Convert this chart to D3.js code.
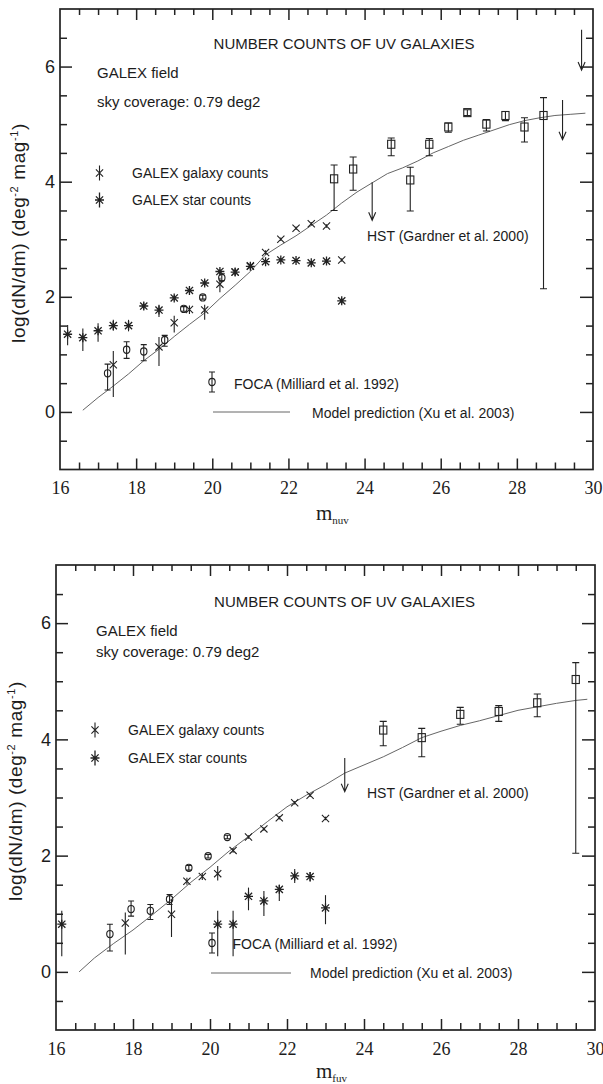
<!DOCTYPE html>
<html>
<head>
<meta charset="utf-8">
<script src="https://cdn.jsdelivr.net/npm/d3@7"></script>
<style>
body { margin: 0; background: #fff; }
svg { display: block; }
text { fill: #1c1c1c; font-family: "Liberation Sans", Arial, sans-serif; }
</style>
</head>
<body>
<svg id="chart" width="603" height="1084"></svg>
<script>
// ---------- NUV panel (top) ----------
var nuvGalMag  = [17.4, 18.6, 19.0, 19.4, 19.8, 20.2, 20.6, 21.0, 21.4, 21.8, 22.2, 22.6, 23.0, 23.4];
var nuvGalLog  = [0.82, 1.13, 1.55, 1.78, 1.77, 2.22, 2.43, 2.54, 2.77, 3.00, 3.19, 3.27, 3.23, 2.64];
var nuvGalLo   = [0.26, 0.80, 1.38, 1.70, 1.60, 2.08, 2.36, 2.48, 2.73, 2.97, 3.16, 3.24, 3.20, 2.61];
var nuvGalHi   = [1.06, 1.30, 1.67, 1.85, 1.86, 2.33, 2.50, 2.59, 2.81, 3.03, 3.22, 3.30, 3.26, 2.67];

var nuvStarMag = [16.2, 16.6, 17.0, 17.4, 17.8, 18.2, 18.6, 19.0, 19.4, 19.8, 20.2, 20.6, 21.0, 21.4, 21.8, 22.2, 22.6, 23.0, 23.4];
var nuvStarLog = [1.35, 1.29, 1.41, 1.50, 1.50, 1.84, 1.77, 1.98, 2.11, 2.24, 2.44, 2.43, 2.53, 2.61, 2.64, 2.63, 2.59, 2.62, 1.93];
var nuvStarLo  = [1.16, 1.06, 1.22, 1.41, 1.40, 1.78, 1.65, 1.93, 2.06, 2.19, 2.40, 2.38, 2.49, 2.58, 2.61, 2.60, 2.56, 2.59, 1.88];
var nuvStarHi  = [1.51, 1.45, 1.54, 1.60, 1.60, 1.90, 1.86, 2.03, 2.16, 2.29, 2.48, 2.48, 2.57, 2.64, 2.67, 2.66, 2.62, 2.65, 1.98];

var nuvFocaMag = [17.25, 17.75, 18.2, 18.75, 19.25, 19.75, 20.25];
var nuvFocaLog = [0.67, 1.08, 1.05, 1.25, 1.79, 1.99, 2.33];
var nuvFocaLo  = [0.38, 0.93, 0.89, 1.14, 1.75, 1.96, 2.28];
var nuvFocaHi  = [0.83, 1.22, 1.17, 1.33, 1.83, 2.03, 2.40];

var nuvHstMag  = [23.2, 23.7, 24.7, 25.2, 25.7, 26.2, 26.7, 27.2, 27.7, 28.2, 28.7];
var nuvHstLog  = [4.05, 4.22, 4.65, 4.03, 4.65, 4.95, 5.20, 5.00, 5.15, 4.95, 5.15];
var nuvHstLo   = [3.50, 3.85, 4.45, 3.49, 4.45, 4.86, 5.15, 4.88, 5.06, 4.69, 2.14];
var nuvHstHi   = [4.29, 4.43, 4.76, 4.25, 4.75, 5.02, 5.25, 5.08, 5.22, 5.11, 5.46];

var nuvLimMag  = [24.2, 29.2, 29.7];
var nuvLimFrom = [3.99, 5.42, 6.64];
var nuvLimTo   = [3.33, 4.73, 5.94];

var nuvModelMag = [16.6, 17.0, 17.4, 17.8, 18.2, 18.6, 19.0, 19.4, 19.8, 20.2, 20.6, 21.0, 21.4, 21.8, 22.2, 22.6, 23.0, 23.4,
                   23.8, 24.2, 24.6, 25.0, 25.4, 25.8, 26.2, 26.6, 27.0, 27.4, 27.8, 28.2, 28.6, 29.0, 29.4, 29.8];
var nuvModelLog = [0.03, 0.25, 0.45, 0.66, 0.89, 1.09, 1.31, 1.52, 1.72, 1.97, 2.20, 2.44, 2.73, 2.90, 3.06, 3.24, 3.42, 3.63,
                   3.82, 3.98, 4.14, 4.24, 4.36, 4.50, 4.61, 4.72, 4.81, 4.90, 4.99, 5.06, 5.11, 5.15, 5.17, 5.19];

// ---------- FUV panel (bottom) ----------
var fuvGalMag  = [17.8, 19.0, 19.4, 19.8, 20.2, 20.6, 21.0, 21.4, 21.8, 22.2, 22.6, 23.0];
var fuvGalLog  = [0.84, 0.99, 1.56, 1.64, 1.69, 2.09, 2.32, 2.46, 2.65, 2.91, 3.04, 2.64];
var fuvGalLo   = [0.30, 0.60, 1.50, 1.58, 1.57, 2.05, 2.29, 2.43, 2.62, 2.88, 3.01, 2.61];
var fuvGalHi   = [1.02, 1.25, 1.62, 1.70, 1.82, 2.13, 2.35, 2.49, 2.68, 2.94, 3.07, 2.67];

var fuvStarMag = [16.15, 20.2, 20.6, 21.0, 21.4, 21.8, 22.2, 22.6, 23.0];
var fuvStarLog = [0.82, 0.82, 0.82, 1.30, 1.22, 1.42, 1.65, 1.64, 1.10];
var fuvStarLo  = [0.27, 0.27, 0.27, 1.06, 0.96, 1.22, 1.53, 1.55, 0.82];
var fuvStarHi  = [1.05, 1.05, 1.05, 1.45, 1.39, 1.50, 1.77, 1.72, 1.32];

var fuvFocaMag = [17.4, 17.95, 18.45, 18.95, 19.45, 19.95, 20.45];
var fuvFocaLog = [0.65, 1.08, 1.05, 1.25, 1.79, 1.99, 2.32];
var fuvFocaLo  = [0.36, 0.96, 0.90, 1.16, 1.75, 1.96, 2.29];
var fuvFocaHi  = [0.82, 1.22, 1.16, 1.33, 1.83, 2.02, 2.35];

var fuvHstMag  = [24.5, 25.5, 26.5, 27.5, 28.5, 29.5];
var fuvHstLog  = [4.16, 4.03, 4.43, 4.48, 4.63, 5.03];
var fuvHstLo   = [3.89, 3.70, 4.26, 4.31, 4.39, 2.04];
var fuvHstHi   = [4.31, 4.19, 4.55, 4.58, 4.78, 5.32];

var fuvLimMag  = [23.5];
var fuvLimFrom = [3.68];
var fuvLimTo   = [3.10];

var fuvModelMag = [16.6, 17.0, 17.5, 18.0, 18.5, 19.0, 19.5, 20.0, 20.5, 21.0, 21.5, 22.0, 22.5, 23.0, 23.5, 24.0,
                   24.5, 25.0, 25.5, 26.0, 26.5, 27.0, 27.5, 28.0, 28.5, 29.0, 29.5, 29.8];
var fuvModelLog = [0.00, 0.24, 0.49, 0.72, 0.98, 1.25, 1.54, 1.80, 2.08, 2.33, 2.59, 2.84, 3.04, 3.22, 3.42, 3.56,
                   3.70, 3.86, 4.03, 4.14, 4.24, 4.32, 4.41, 4.50, 4.56, 4.62, 4.67, 4.69];

// ---------- axes ----------
var xDomain = [16, 30];
var yDomain = [-1, 7];
var xMajor = [16, 18, 20, 22, 24, 26, 28, 30];
var yMajor = [0, 2, 4, 6];

var svg = d3.select("#chart");
var ink = "#222";

var panels = [
  { left: 60, right: 593, top: 9, bottom: 469.5, band: "nuv",
    gal: [nuvGalMag, nuvGalLog, nuvGalLo, nuvGalHi],
    star: [nuvStarMag, nuvStarLog, nuvStarLo, nuvStarHi],
    foca: [nuvFocaMag, nuvFocaLog, nuvFocaLo, nuvFocaHi],
    hst: [nuvHstMag, nuvHstLog, nuvHstLo, nuvHstHi],
    lim: [nuvLimMag, nuvLimFrom, nuvLimTo],
    model: [nuvModelMag, nuvModelLog],
    pos: { title: [344, 49], field: [97, 78], sky: [97, 107],
           galSym: [99.5, 173], galText: [132, 178], starSym: [99.5, 200], starText: [132, 205],
           hst: [367, 241], focaSym: [212, 382], focaText: [234, 389],
           modelLine: [213, 290, 412], modelText: [312, 418], xlab: [316, 520], ylab: [25, 233] } },
  { left: 56, right: 595, top: 565, bottom: 1030, band: "fuv",
    gal: [fuvGalMag, fuvGalLog, fuvGalLo, fuvGalHi],
    star: [fuvStarMag, fuvStarLog, fuvStarLo, fuvStarHi],
    foca: [fuvFocaMag, fuvFocaLog, fuvFocaLo, fuvFocaHi],
    hst: [fuvHstMag, fuvHstLog, fuvHstLo, fuvHstHi],
    lim: [fuvLimMag, fuvLimFrom, fuvLimTo],
    model: [fuvModelMag, fuvModelLog],
    pos: { title: [344.5, 607], field: [96, 636], sky: [96, 657],
           galSym: [95, 730], galText: [128, 735], starSym: [95, 758], starText: [128, 763],
           hst: [367, 798], focaSym: [212, 943], focaText: [232.5, 949],
           modelLine: [211, 291, 973], modelText: [310, 978], xlab: [316, 1078], ylab: [22, 791] } }
];

function rows(s) {
  return s[0].map(function(m, i) { return { m: m, v: s[1][i], lo: s[2][i], hi: s[3][i] }; });
}

function crossPath(cx, cy, s) {
  return "M" + (cx - s) + "," + (cy - s) + "L" + (cx + s) + "," + (cy + s) +
         "M" + (cx - s) + "," + (cy + s) + "L" + (cx + s) + "," + (cy - s);
}
function starPath(cx, cy, s) {
  return crossPath(cx, cy, s * 0.8) + "M" + (cx - s) + "," + cy + "L" + (cx + s) + "," + cy +
         "M" + cx + "," + (cy - s) + "L" + cx + "," + (cy + s);
}

function drawPanel(p) {
  var g = svg.append("g");
  var x = d3.scaleLinear().domain(xDomain).range([p.left, p.right]);
  var y = d3.scaleLinear().domain(yDomain).range([p.bottom, p.top]);

  var xMinor = d3.range(16.5, 30, 0.5).filter(function(d) { return xMajor.indexOf(d) < 0; });
  var yMinor = d3.range(-0.5, 7, 0.5).filter(function(d) { return yMajor.indexOf(d) < 0; });
  var xMajIn = xMajor.filter(function(d) { return d > 16 && d < 30; });

  function axis(gen, tr, vals, size, pad, fmt) {
    var a = gen.tickValues(vals).tickSize(-size).tickSizeOuter(0).tickPadding(pad);
    a.tickFormat(fmt ? fmt : function() { return ""; });
    var ag = g.append("g").attr("transform", tr).call(a);
    ag.select(".domain").remove();
    ag.selectAll("line").attr("stroke", ink).attr("stroke-width", 1.5);
    return ag;
  }

  // bottom axis with serif labels
  axis(d3.axisBottom(x), "translate(0," + p.bottom + ")", xMajIn, 11, 0);
  axis(d3.axisBottom(x), "translate(0," + p.bottom + ")", xMinor, 7, 0);
  var xl = axis(d3.axisBottom(x), "translate(0," + p.bottom + ")", xMajor, 0, 12, d3.format("d"));
  xl.selectAll("text").attr("fill", "#1c1c1c")
    .style("font-family", "'Liberation Serif', 'Times New Roman', serif").style("font-size", "18px");
  // top mirror
  axis(d3.axisTop(x), "translate(0," + p.top + ")", xMajIn, 11, 0);
  axis(d3.axisTop(x), "translate(0," + p.top + ")", xMinor, 6, 0);
  // left axis
  axis(d3.axisLeft(y), "translate(" + p.left + ",0)", yMajor, 12, 0);
  axis(d3.axisLeft(y), "translate(" + p.left + ",0)", yMinor, 7, 0);
  var yl = axis(d3.axisLeft(y), "translate(" + p.left + ",0)", yMajor, 0, 5, d3.format("d"));
  yl.selectAll("text").attr("fill", "#1c1c1c").style("font-size", "18px")
    .style("font-family", "'Liberation Sans', Arial, sans-serif");
  // right mirror
  axis(d3.axisRight(y), "translate(" + p.right + ",0)", yMajor, 13, 0);
  axis(d3.axisRight(y), "translate(" + p.right + ",0)", yMinor, 7, 0);

  g.append("rect")
    .attr("x", p.left).attr("y", p.top)
    .attr("width", p.right - p.left).attr("height", p.bottom - p.top)
    .attr("fill", "none").attr("stroke", ink).attr("stroke-width", 1.7);

  // model prediction
  var line = d3.line().x(function(d) { return x(d[0]); }).y(function(d) { return y(d[1]); });
  g.append("path").datum(d3.zip(p.model[0], p.model[1]))
    .attr("d", line).attr("fill", "none").attr("stroke", "#666").attr("stroke-width", 1);

  var marks = g.append("g").attr("fill", "none").attr("stroke", ink).attr("stroke-width", 1.1);

  // error bars (plain for GALEX points, capped for FOCA / HST)
  function bars(data, cap, cls) {
    marks.selectAll("path." + cls).data(data).enter().append("path").attr("class", cls)
      .attr("d", function(d) {
        var s = "M" + x(d.m) + "," + y(d.lo) + "L" + x(d.m) + "," + y(d.hi);
        if (cap) {
          s += "M" + (x(d.m) - cap) + "," + y(d.lo) + "L" + (x(d.m) + cap) + "," + y(d.lo) +
               "M" + (x(d.m) - cap) + "," + y(d.hi) + "L" + (x(d.m) + cap) + "," + y(d.hi);
        }
        return s;
      });
  }

  var gal = rows(p.gal), star = rows(p.star), foca = rows(p.foca), hst = rows(p.hst);
  bars(gal, 0, "gbar");
  bars(star, 0, "sbar");
  bars(foca, 3, "fbar");
  bars(hst, 3.5, "hbar");

  marks.selectAll("path.gal").data(gal).enter().append("path").attr("class", "gal")
    .attr("d", function(d) { return crossPath(x(d.m), y(d.v), 3.6); });
  marks.selectAll("path.star").data(star).enter().append("path").attr("class", "star")
    .attr("d", function(d) { return starPath(x(d.m), y(d.v), 4.5); })
    .attr("stroke-width", 1.3);
  marks.selectAll("ellipse.foca").data(foca).enter().append("ellipse").attr("class", "foca")
    .attr("cx", function(d) { return x(d.m); }).attr("cy", function(d) { return y(d.v); })
    .attr("rx", 3.2).attr("ry", 3.6);
  marks.selectAll("rect.hst").data(hst).enter().append("rect").attr("class", "hst")
    .attr("x", function(d) { return x(d.m) - 3.6; }).attr("y", function(d) { return y(d.v) - 4; })
    .attr("width", 7.2).attr("height", 8);

  // HST upper limits (arrows)
  var lim = p.lim[0].map(function(m, i) { return { m: m, a: p.lim[1][i], b: p.lim[2][i] }; });
  marks.selectAll("path.lim").data(lim).enter().append("path").attr("class", "lim")
    .attr("d", function(d) {
      var cx = x(d.m), yb = y(d.b);
      return "M" + cx + "," + y(d.a) + "L" + cx + "," + yb +
             "M" + (cx - 3.5) + "," + (yb - 8) + "L" + cx + "," + yb + "L" + (cx + 3.5) + "," + (yb - 8);
    });

  // annotations and legend
  var q = p.pos;
  function label(pt, str, size, anchor) {
    return g.append("text").attr("x", pt[0]).attr("y", pt[1])
      .attr("text-anchor", anchor || "start").style("font-size", size + "px").text(str);
  }
  label(q.title, "NUMBER COUNTS OF UV GALAXIES", 15, "middle");
  label(q.field, "GALEX field", 15);
  label(q.sky, "sky coverage: 0.79 deg2", 15);
  label(q.galText, "GALEX galaxy counts", 14);
  label(q.starText, "GALEX star counts", 14);
  label(q.hst, "HST (Gardner et al. 2000)", 14);
  label(q.focaText, "FOCA (Milliard et al. 1992)", 14);
  label(q.modelText, "Model prediction (Xu et al. 2003)", 14);

  var leg = g.append("g").attr("fill", "none").attr("stroke", ink).attr("stroke-width", 1.1);
  leg.append("path").attr("d", crossPath(q.galSym[0], q.galSym[1], 3.6) +
    "M" + q.galSym[0] + "," + (q.galSym[1] - 7.5) + "L" + q.galSym[0] + "," + (q.galSym[1] + 7.5));
  leg.append("path").attr("stroke-width", 1.3).attr("d", starPath(q.starSym[0], q.starSym[1], 4.5) +
    "M" + q.starSym[0] + "," + (q.starSym[1] - 7.5) + "L" + q.starSym[0] + "," + (q.starSym[1] + 7.5));
  var fx = q.focaSym[0], fy = q.focaSym[1];
  leg.append("ellipse").attr("cx", fx).attr("cy", fy).attr("rx", 3.2).attr("ry", 3.6);
  leg.append("path").attr("d", "M" + fx + "," + (fy - 10) + "L" + fx + "," + (fy + 10) +
    "M" + (fx - 3) + "," + (fy - 10) + "L" + (fx + 3) + "," + (fy - 10) +
    "M" + (fx - 3) + "," + (fy + 10) + "L" + (fx + 3) + "," + (fy + 10));
  g.append("line").attr("x1", q.modelLine[0]).attr("x2", q.modelLine[1])
    .attr("y1", q.modelLine[2]).attr("y2", q.modelLine[2])
    .attr("stroke", "#666").attr("stroke-width", 1);

  // axis titles
  var xt = g.append("text").attr("x", q.xlab[0]).attr("y", q.xlab[1])
    .style("font-family", "'Liberation Serif', 'Times New Roman', serif").style("font-size", "21px");
  xt.append("tspan").text("m");
  xt.append("tspan").attr("dy", 4).style("font-size", "11px").text(p.band);

  var yt = g.append("text")
    .attr("transform", "translate(" + q.ylab[0] + "," + q.ylab[1] + ") rotate(-90)")
    .attr("text-anchor", "middle").style("font-size", "19px").style("letter-spacing", "0.6px");
  yt.append("tspan").text("log(dN/dm) (deg");
  yt.append("tspan").attr("dy", -7).style("font-size", "11px").text("-2");
  yt.append("tspan").attr("dy", 7).text(" mag");
  yt.append("tspan").attr("dy", -7).style("font-size", "11px").text("-1");
  yt.append("tspan").attr("dy", 7).text(")");
}

panels.forEach(drawPanel);
</script>
</body>
</html>
